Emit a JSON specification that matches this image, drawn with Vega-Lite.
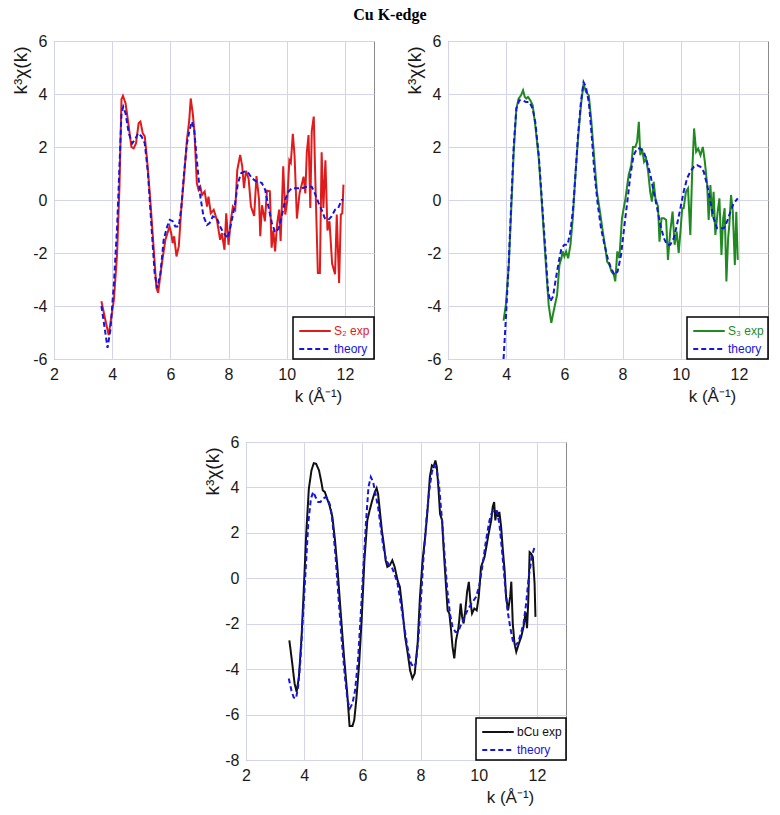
{
  "$schema": "https://vega.github.io/schema/vega-lite/v6.json",
  "background": "white",
  "padding": {"left": 10, "top": 6, "right": 5, "bottom": 5},
  "title": {"text": "Cu K-edge", "font": "Liberation Serif", "fontSize": 16, "fontWeight": "bold", "anchor": "middle", "offset": 10, "color": "#000"},
  "config": {
    "font": "Liberation Sans",
    "view": {"stroke": null},
    "axis": {"grid": true, "gridColor": "#d4d4ea", "gridWidth": 1, "domain": false, "ticks": false, "labelFont": "Liberation Sans", "labelFontSize": 16, "labelColor": "#1a1a1a", "titleFont": "Liberation Sans", "titleFontSize": 17, "titleFontWeight": "normal", "titleColor": "#1a1a1a", "labelFlush": false, "labelOverlap": false, "labelExpr": "'' + datum.value"},
    "axisX": {"labelPadding": 7, "titleX": 264, "titleY": 37, "titleAlign": "center", "titleBaseline": "middle"},
    "axisY": {"labelPadding": 7, "titleX": -34, "titleY": 29, "titleAngle": 270, "titleAlign": "center", "titleBaseline": "middle", "titleFontSize": 19},
    "legend": {"orient": "bottom-right", "offset": 0, "strokeColor": "#000", "strokeWidth": 1.5, "fillColor": "white", "padding": 4, "symbolType": "M-1.75,0H1.75", "symbolSize": 324, "symbolOffset": 8, "symbolStrokeWidth": 2, "labelFontSize": 12, "labelFont": "Liberation Sans", "labelOffset": 9, "rowPadding": 2, "cornerRadius": 0}
  },
  "datasets": {
    "p1": [
      {"k":3.63,"v":-3.82,"s":"S₂ exp"},{"k":3.76,"v":-4.5,"s":"S₂ exp"},{"k":3.88,"v":-5.1,"s":"S₂ exp"},{"k":4.06,"v":-3.76,"s":"S₂ exp"},{"k":4.17,"v":-2.0,"s":"S₂ exp"},{"k":4.25,"v":0.5,"s":"S₂ exp"},{"k":4.32,"v":3.8,"s":"S₂ exp"},{"k":4.37,"v":3.93,"s":"S₂ exp"},{"k":4.46,"v":3.65,"s":"S₂ exp"},{"k":4.57,"v":2.77,"s":"S₂ exp"},{"k":4.66,"v":2.0,"s":"S₂ exp"},{"k":4.74,"v":1.95,"s":"S₂ exp"},{"k":4.82,"v":2.14,"s":"S₂ exp"},{"k":4.91,"v":2.9,"s":"S₂ exp"},{"k":4.97,"v":2.96,"s":"S₂ exp"},{"k":5.05,"v":2.52,"s":"S₂ exp"},{"k":5.12,"v":2.4,"s":"S₂ exp"},{"k":5.2,"v":1.52,"s":"S₂ exp"},{"k":5.31,"v":0,"s":"S₂ exp"},{"k":5.43,"v":-1.88,"s":"S₂ exp"},{"k":5.52,"v":-3.32,"s":"S₂ exp"},{"k":5.58,"v":-3.5,"s":"S₂ exp"},{"k":5.71,"v":-2.38,"s":"S₂ exp"},{"k":5.83,"v":-1.5,"s":"S₂ exp"},{"k":5.97,"v":-1.0,"s":"S₂ exp"},{"k":6.03,"v":-1.25,"s":"S₂ exp"},{"k":6.08,"v":-1.63,"s":"S₂ exp"},{"k":6.13,"v":-1.37,"s":"S₂ exp"},{"k":6.21,"v":-2.13,"s":"S₂ exp"},{"k":6.29,"v":-1.75,"s":"S₂ exp"},{"k":6.38,"v":-0.25,"s":"S₂ exp"},{"k":6.47,"v":0.88,"s":"S₂ exp"},{"k":6.57,"v":2.27,"s":"S₂ exp"},{"k":6.65,"v":3.02,"s":"S₂ exp"},{"k":6.7,"v":3.83,"s":"S₂ exp"},{"k":6.77,"v":3.27,"s":"S₂ exp"},{"k":6.83,"v":2.52,"s":"S₂ exp"},{"k":6.91,"v":0.63,"s":"S₂ exp"},{"k":6.97,"v":0.38,"s":"S₂ exp"},{"k":7.03,"v":0.5,"s":"S₂ exp"},{"k":7.09,"v":0.19,"s":"S₂ exp"},{"k":7.18,"v":0.32,"s":"S₂ exp"},{"k":7.26,"v":-0.25,"s":"S₂ exp"},{"k":7.31,"v":0.13,"s":"S₂ exp"},{"k":7.39,"v":-0.5,"s":"S₂ exp"},{"k":7.49,"v":-0.37,"s":"S₂ exp"},{"k":7.6,"v":-0.75,"s":"S₂ exp"},{"k":7.71,"v":-1.5,"s":"S₂ exp"},{"k":7.77,"v":-1.25,"s":"S₂ exp"},{"k":7.86,"v":-1.88,"s":"S₂ exp"},{"k":7.92,"v":-0.5,"s":"S₂ exp"},{"k":8.0,"v":-1.69,"s":"S₂ exp"},{"k":8.08,"v":-0.75,"s":"S₂ exp"},{"k":8.15,"v":-0.25,"s":"S₂ exp"},{"k":8.23,"v":-0.37,"s":"S₂ exp"},{"k":8.3,"v":1.13,"s":"S₂ exp"},{"k":8.4,"v":1.7,"s":"S₂ exp"},{"k":8.47,"v":1.27,"s":"S₂ exp"},{"k":8.53,"v":0.45,"s":"S₂ exp"},{"k":8.6,"v":1.1,"s":"S₂ exp"},{"k":8.69,"v":0.8,"s":"S₂ exp"},{"k":8.77,"v":-0.24,"s":"S₂ exp"},{"k":8.88,"v":-0.6,"s":"S₂ exp"},{"k":8.96,"v":0.9,"s":"S₂ exp"},{"k":9.05,"v":0.0,"s":"S₂ exp"},{"k":9.09,"v":-1.37,"s":"S₂ exp"},{"k":9.15,"v":-0.2,"s":"S₂ exp"},{"k":9.25,"v":-0.8,"s":"S₂ exp"},{"k":9.32,"v":0.35,"s":"S₂ exp"},{"k":9.42,"v":0.33,"s":"S₂ exp"},{"k":9.48,"v":-1.8,"s":"S₂ exp"},{"k":9.54,"v":-1.15,"s":"S₂ exp"},{"k":9.6,"v":-1.94,"s":"S₂ exp"},{"k":9.67,"v":-0.9,"s":"S₂ exp"},{"k":9.74,"v":-0.36,"s":"S₂ exp"},{"k":9.79,"v":-1.55,"s":"S₂ exp"},{"k":9.88,"v":1.27,"s":"S₂ exp"},{"k":9.95,"v":-0.55,"s":"S₂ exp"},{"k":10.02,"v":0,"s":"S₂ exp"},{"k":10.09,"v":1.5,"s":"S₂ exp"},{"k":10.14,"v":1.4,"s":"S₂ exp"},{"k":10.21,"v":2.5,"s":"S₂ exp"},{"k":10.27,"v":1.65,"s":"S₂ exp"},{"k":10.35,"v":-0.7,"s":"S₂ exp"},{"k":10.44,"v":0.25,"s":"S₂ exp"},{"k":10.52,"v":0.6,"s":"S₂ exp"},{"k":10.58,"v":0.88,"s":"S₂ exp"},{"k":10.64,"v":0.25,"s":"S₂ exp"},{"k":10.69,"v":1.8,"s":"S₂ exp"},{"k":10.75,"v":2.45,"s":"S₂ exp"},{"k":10.81,"v":-0.3,"s":"S₂ exp"},{"k":10.86,"v":2.6,"s":"S₂ exp"},{"k":10.93,"v":3.15,"s":"S₂ exp"},{"k":10.98,"v":0.9,"s":"S₂ exp"},{"k":11.07,"v":-2.75,"s":"S₂ exp"},{"k":11.14,"v":-2.75,"s":"S₂ exp"},{"k":11.2,"v":1.8,"s":"S₂ exp"},{"k":11.26,"v":-0.3,"s":"S₂ exp"},{"k":11.33,"v":1.5,"s":"S₂ exp"},{"k":11.4,"v":-1.15,"s":"S₂ exp"},{"k":11.47,"v":-0.8,"s":"S₂ exp"},{"k":11.56,"v":-2.4,"s":"S₂ exp"},{"k":11.66,"v":-2.8,"s":"S₂ exp"},{"k":11.72,"v":-0.55,"s":"S₂ exp"},{"k":11.8,"v":-3.13,"s":"S₂ exp"},{"k":11.86,"v":-0.55,"s":"S₂ exp"},{"k":11.91,"v":-0.5,"s":"S₂ exp"},{"k":11.95,"v":0.58,"s":"S₂ exp"},
      {"k":3.63,"v":-4.0,"s":"theory"},{"k":3.75,"v":-4.9,"s":"theory"},{"k":3.84,"v":-5.58,"s":"theory"},{"k":3.94,"v":-4.89,"s":"theory"},{"k":4.06,"v":-3.13,"s":"theory"},{"k":4.17,"v":-1.0,"s":"theory"},{"k":4.25,"v":1.26,"s":"theory"},{"k":4.32,"v":3.27,"s":"theory"},{"k":4.38,"v":3.52,"s":"theory"},{"k":4.46,"v":3.27,"s":"theory"},{"k":4.57,"v":2.52,"s":"theory"},{"k":4.69,"v":2.14,"s":"theory"},{"k":4.78,"v":2.27,"s":"theory"},{"k":4.89,"v":2.52,"s":"theory"},{"k":5.01,"v":2.4,"s":"theory"},{"k":5.12,"v":2.14,"s":"theory"},{"k":5.23,"v":1.01,"s":"theory"},{"k":5.35,"v":-1.0,"s":"theory"},{"k":5.46,"v":-2.76,"s":"theory"},{"k":5.55,"v":-3.32,"s":"theory"},{"k":5.66,"v":-2.76,"s":"theory"},{"k":5.77,"v":-1.5,"s":"theory"},{"k":5.89,"v":-1.0,"s":"theory"},{"k":5.98,"v":-0.75,"s":"theory"},{"k":6.08,"v":-0.8,"s":"theory"},{"k":6.17,"v":-1.0,"s":"theory"},{"k":6.29,"v":-1.0,"s":"theory"},{"k":6.38,"v":-0.25,"s":"theory"},{"k":6.46,"v":0.88,"s":"theory"},{"k":6.57,"v":2.14,"s":"theory"},{"k":6.66,"v":2.64,"s":"theory"},{"k":6.74,"v":2.96,"s":"theory"},{"k":6.82,"v":2.64,"s":"theory"},{"k":6.91,"v":1.51,"s":"theory"},{"k":7.03,"v":0.13,"s":"theory"},{"k":7.14,"v":-0.62,"s":"theory"},{"k":7.26,"v":-0.94,"s":"theory"},{"k":7.35,"v":-0.87,"s":"theory"},{"k":7.46,"v":-0.62,"s":"theory"},{"k":7.6,"v":-0.69,"s":"theory"},{"k":7.71,"v":-1.0,"s":"theory"},{"k":7.83,"v":-1.25,"s":"theory"},{"k":7.98,"v":-1.44,"s":"theory"},{"k":8.09,"v":-0.87,"s":"theory"},{"k":8.21,"v":-0.25,"s":"theory"},{"k":8.32,"v":0.63,"s":"theory"},{"k":8.43,"v":1.01,"s":"theory"},{"k":8.55,"v":1.07,"s":"theory"},{"k":8.69,"v":1.01,"s":"theory"},{"k":8.8,"v":0.82,"s":"theory"},{"k":8.97,"v":0.69,"s":"theory"},{"k":9.14,"v":0.65,"s":"theory"},{"k":9.26,"v":0.38,"s":"theory"},{"k":9.37,"v":-0.25,"s":"theory"},{"k":9.49,"v":-0.87,"s":"theory"},{"k":9.6,"v":-1.22,"s":"theory"},{"k":9.71,"v":-1.1,"s":"theory"},{"k":9.83,"v":-0.62,"s":"theory"},{"k":9.94,"v":0,"s":"theory"},{"k":10.06,"v":0.32,"s":"theory"},{"k":10.17,"v":0.44,"s":"theory"},{"k":10.34,"v":0.44,"s":"theory"},{"k":10.51,"v":0.44,"s":"theory"},{"k":10.69,"v":0.5,"s":"theory"},{"k":10.86,"v":0.5,"s":"theory"},{"k":10.97,"v":0.25,"s":"theory"},{"k":11.09,"v":-0.1,"s":"theory"},{"k":11.2,"v":-0.37,"s":"theory"},{"k":11.31,"v":-0.69,"s":"theory"},{"k":11.43,"v":-0.75,"s":"theory"},{"k":11.54,"v":-0.62,"s":"theory"},{"k":11.66,"v":-0.37,"s":"theory"},{"k":11.77,"v":-0.3,"s":"theory"},{"k":11.89,"v":0,"s":"theory"},{"k":11.95,"v":0.02,"s":"theory"}
    ],
    "p2": [
      {"k":3.91,"v":-4.55,"s":"S₃ exp"},{"k":3.99,"v":-3.95,"s":"S₃ exp"},{"k":4.09,"v":-2.45,"s":"S₃ exp"},{"k":4.18,"v":-0.19,"s":"S₃ exp"},{"k":4.26,"v":1.82,"s":"S₃ exp"},{"k":4.35,"v":3.45,"s":"S₃ exp"},{"k":4.43,"v":3.83,"s":"S₃ exp"},{"k":4.51,"v":3.95,"s":"S₃ exp"},{"k":4.58,"v":4.14,"s":"S₃ exp"},{"k":4.64,"v":3.89,"s":"S₃ exp"},{"k":4.69,"v":3.83,"s":"S₃ exp"},{"k":4.75,"v":3.89,"s":"S₃ exp"},{"k":4.83,"v":3.76,"s":"S₃ exp"},{"k":4.91,"v":3.58,"s":"S₃ exp"},{"k":5.0,"v":2.82,"s":"S₃ exp"},{"k":5.12,"v":1.57,"s":"S₃ exp"},{"k":5.23,"v":-0.19,"s":"S₃ exp"},{"k":5.35,"v":-2.2,"s":"S₃ exp"},{"k":5.46,"v":-3.95,"s":"S₃ exp"},{"k":5.55,"v":-4.64,"s":"S₃ exp"},{"k":5.63,"v":-4.2,"s":"S₃ exp"},{"k":5.75,"v":-3.58,"s":"S₃ exp"},{"k":5.83,"v":-2.45,"s":"S₃ exp"},{"k":5.9,"v":-2.2,"s":"S₃ exp"},{"k":5.94,"v":-1.94,"s":"S₃ exp"},{"k":6.0,"v":-2.13,"s":"S₃ exp"},{"k":6.06,"v":-1.94,"s":"S₃ exp"},{"k":6.13,"v":-2.2,"s":"S₃ exp"},{"k":6.21,"v":-1.69,"s":"S₃ exp"},{"k":6.29,"v":-0.69,"s":"S₃ exp"},{"k":6.38,"v":0.94,"s":"S₃ exp"},{"k":6.47,"v":2.32,"s":"S₃ exp"},{"k":6.57,"v":3.58,"s":"S₃ exp"},{"k":6.66,"v":4.39,"s":"S₃ exp"},{"k":6.74,"v":4.08,"s":"S₃ exp"},{"k":6.84,"v":3.95,"s":"S₃ exp"},{"k":6.92,"v":3.07,"s":"S₃ exp"},{"k":7.01,"v":1.82,"s":"S₃ exp"},{"k":7.12,"v":0.31,"s":"S₃ exp"},{"k":7.24,"v":-0.56,"s":"S₃ exp"},{"k":7.32,"v":-1.19,"s":"S₃ exp"},{"k":7.41,"v":-1.82,"s":"S₃ exp"},{"k":7.47,"v":-2.32,"s":"S₃ exp"},{"k":7.55,"v":-2.45,"s":"S₃ exp"},{"k":7.62,"v":-2.7,"s":"S₃ exp"},{"k":7.7,"v":-2.82,"s":"S₃ exp"},{"k":7.75,"v":-3.07,"s":"S₃ exp"},{"k":7.82,"v":-1.94,"s":"S₃ exp"},{"k":7.89,"v":-2.2,"s":"S₃ exp"},{"k":7.98,"v":-0.69,"s":"S₃ exp"},{"k":8.1,"v":0.06,"s":"S₃ exp"},{"k":8.21,"v":0.94,"s":"S₃ exp"},{"k":8.3,"v":1.32,"s":"S₃ exp"},{"k":8.36,"v":2.0,"s":"S₃ exp"},{"k":8.44,"v":2.0,"s":"S₃ exp"},{"k":8.5,"v":2.2,"s":"S₃ exp"},{"k":8.56,"v":2.95,"s":"S₃ exp"},{"k":8.61,"v":1.69,"s":"S₃ exp"},{"k":8.67,"v":1.94,"s":"S₃ exp"},{"k":8.74,"v":1.44,"s":"S₃ exp"},{"k":8.81,"v":1.57,"s":"S₃ exp"},{"k":8.88,"v":1.07,"s":"S₃ exp"},{"k":8.95,"v":0.31,"s":"S₃ exp"},{"k":9.01,"v":-0.06,"s":"S₃ exp"},{"k":9.07,"v":0.69,"s":"S₃ exp"},{"k":9.13,"v":0.06,"s":"S₃ exp"},{"k":9.22,"v":-0.25,"s":"S₃ exp"},{"k":9.27,"v":-1.57,"s":"S₃ exp"},{"k":9.34,"v":-0.69,"s":"S₃ exp"},{"k":9.42,"v":-0.69,"s":"S₃ exp"},{"k":9.5,"v":-0.75,"s":"S₃ exp"},{"k":9.56,"v":-2.26,"s":"S₃ exp"},{"k":9.64,"v":-1.19,"s":"S₃ exp"},{"k":9.72,"v":-0.44,"s":"S₃ exp"},{"k":9.79,"v":-1.69,"s":"S₃ exp"},{"k":9.86,"v":-1.19,"s":"S₃ exp"},{"k":9.93,"v":-2.0,"s":"S₃ exp"},{"k":9.99,"v":-1.19,"s":"S₃ exp"},{"k":10.05,"v":-0.31,"s":"S₃ exp"},{"k":10.1,"v":-0.31,"s":"S₃ exp"},{"k":10.18,"v":0.31,"s":"S₃ exp"},{"k":10.25,"v":0.44,"s":"S₃ exp"},{"k":10.33,"v":-1.32,"s":"S₃ exp"},{"k":10.39,"v":0.94,"s":"S₃ exp"},{"k":10.46,"v":2.7,"s":"S₃ exp"},{"k":10.53,"v":1.82,"s":"S₃ exp"},{"k":10.6,"v":1.94,"s":"S₃ exp"},{"k":10.68,"v":1.69,"s":"S₃ exp"},{"k":10.76,"v":2.0,"s":"S₃ exp"},{"k":10.83,"v":1.44,"s":"S₃ exp"},{"k":10.91,"v":0.56,"s":"S₃ exp"},{"k":10.96,"v":-0.75,"s":"S₃ exp"},{"k":11.02,"v":0.56,"s":"S₃ exp"},{"k":11.08,"v":-0.63,"s":"S₃ exp"},{"k":11.13,"v":0.31,"s":"S₃ exp"},{"k":11.19,"v":-1.32,"s":"S₃ exp"},{"k":11.27,"v":-0.44,"s":"S₃ exp"},{"k":11.33,"v":0.06,"s":"S₃ exp"},{"k":11.4,"v":-2.07,"s":"S₃ exp"},{"k":11.46,"v":-0.69,"s":"S₃ exp"},{"k":11.51,"v":-0.31,"s":"S₃ exp"},{"k":11.57,"v":-3.07,"s":"S₃ exp"},{"k":11.63,"v":-1.44,"s":"S₃ exp"},{"k":11.67,"v":-0.94,"s":"S₃ exp"},{"k":11.73,"v":0.19,"s":"S₃ exp"},{"k":11.79,"v":-0.44,"s":"S₃ exp"},{"k":11.86,"v":-2.45,"s":"S₃ exp"},{"k":11.91,"v":-0.44,"s":"S₃ exp"},{"k":11.96,"v":-2.26,"s":"S₃ exp"},
      {"k":3.91,"v":-6.0,"s":"theory"},{"k":3.99,"v":-4.45,"s":"theory"},{"k":4.09,"v":-2.32,"s":"theory"},{"k":4.18,"v":0.06,"s":"theory"},{"k":4.26,"v":2.07,"s":"theory"},{"k":4.35,"v":3.45,"s":"theory"},{"k":4.45,"v":3.76,"s":"theory"},{"k":4.57,"v":3.76,"s":"theory"},{"k":4.68,"v":3.7,"s":"theory"},{"k":4.8,"v":3.7,"s":"theory"},{"k":4.91,"v":3.45,"s":"theory"},{"k":5.0,"v":2.95,"s":"theory"},{"k":5.12,"v":1.69,"s":"theory"},{"k":5.23,"v":-0.06,"s":"theory"},{"k":5.35,"v":-1.94,"s":"theory"},{"k":5.44,"v":-3.45,"s":"theory"},{"k":5.52,"v":-3.83,"s":"theory"},{"k":5.61,"v":-3.64,"s":"theory"},{"k":5.71,"v":-2.95,"s":"theory"},{"k":5.81,"v":-2.32,"s":"theory"},{"k":5.9,"v":-1.82,"s":"theory"},{"k":6.0,"v":-1.69,"s":"theory"},{"k":6.11,"v":-1.69,"s":"theory"},{"k":6.21,"v":-1.19,"s":"theory"},{"k":6.3,"v":-0.31,"s":"theory"},{"k":6.38,"v":0.94,"s":"theory"},{"k":6.47,"v":2.45,"s":"theory"},{"k":6.57,"v":3.7,"s":"theory"},{"k":6.66,"v":4.45,"s":"theory"},{"k":6.74,"v":4.27,"s":"theory"},{"k":6.84,"v":3.7,"s":"theory"},{"k":6.93,"v":2.57,"s":"theory"},{"k":7.03,"v":1.07,"s":"theory"},{"k":7.15,"v":-0.19,"s":"theory"},{"k":7.26,"v":-1.07,"s":"theory"},{"k":7.38,"v":-1.69,"s":"theory"},{"k":7.49,"v":-2.2,"s":"theory"},{"k":7.6,"v":-2.57,"s":"theory"},{"k":7.72,"v":-2.82,"s":"theory"},{"k":7.83,"v":-2.7,"s":"theory"},{"k":7.95,"v":-2.07,"s":"theory"},{"k":8.04,"v":-1.19,"s":"theory"},{"k":8.15,"v":-0.19,"s":"theory"},{"k":8.27,"v":0.94,"s":"theory"},{"k":8.38,"v":1.69,"s":"theory"},{"k":8.5,"v":1.94,"s":"theory"},{"k":8.61,"v":1.94,"s":"theory"},{"k":8.73,"v":1.82,"s":"theory"},{"k":8.84,"v":1.44,"s":"theory"},{"k":8.96,"v":0.94,"s":"theory"},{"k":9.07,"v":0.31,"s":"theory"},{"k":9.19,"v":-0.31,"s":"theory"},{"k":9.3,"v":-0.94,"s":"theory"},{"k":9.42,"v":-1.44,"s":"theory"},{"k":9.53,"v":-1.69,"s":"theory"},{"k":9.64,"v":-1.69,"s":"theory"},{"k":9.76,"v":-1.44,"s":"theory"},{"k":9.87,"v":-0.94,"s":"theory"},{"k":9.99,"v":-0.31,"s":"theory"},{"k":10.1,"v":0.31,"s":"theory"},{"k":10.22,"v":0.82,"s":"theory"},{"k":10.33,"v":1.07,"s":"theory"},{"k":10.45,"v":1.25,"s":"theory"},{"k":10.56,"v":1.32,"s":"theory"},{"k":10.68,"v":1.25,"s":"theory"},{"k":10.79,"v":1.07,"s":"theory"},{"k":10.91,"v":0.56,"s":"theory"},{"k":11.02,"v":-0.06,"s":"theory"},{"k":11.13,"v":-0.69,"s":"theory"},{"k":11.25,"v":-1.07,"s":"theory"},{"k":11.36,"v":-1.07,"s":"theory"},{"k":11.48,"v":-1.07,"s":"theory"},{"k":11.59,"v":-0.82,"s":"theory"},{"k":11.71,"v":-0.44,"s":"theory"},{"k":11.82,"v":-0.13,"s":"theory"},{"k":11.96,"v":0.06,"s":"theory"}
    ],
    "p3": [
      {"k":3.49,"v":-2.73,"s":"bCu exp"},{"k":3.59,"v":-3.75,"s":"bCu exp"},{"k":3.67,"v":-4.63,"s":"bCu exp"},{"k":3.74,"v":-5.0,"s":"bCu exp"},{"k":3.82,"v":-4.34,"s":"bCu exp"},{"k":3.91,"v":-2.58,"s":"bCu exp"},{"k":3.99,"v":-0.38,"s":"bCu exp"},{"k":4.07,"v":1.96,"s":"bCu exp"},{"k":4.16,"v":3.94,"s":"bCu exp"},{"k":4.25,"v":4.75,"s":"bCu exp"},{"k":4.33,"v":5.07,"s":"bCu exp"},{"k":4.41,"v":5.04,"s":"bCu exp"},{"k":4.51,"v":4.75,"s":"bCu exp"},{"k":4.59,"v":4.24,"s":"bCu exp"},{"k":4.64,"v":3.87,"s":"bCu exp"},{"k":4.71,"v":3.8,"s":"bCu exp"},{"k":4.79,"v":3.5,"s":"bCu exp"},{"k":4.87,"v":3.21,"s":"bCu exp"},{"k":4.97,"v":2.7,"s":"bCu exp"},{"k":5.06,"v":1.67,"s":"bCu exp"},{"k":5.15,"v":0.35,"s":"bCu exp"},{"k":5.25,"v":-1.41,"s":"bCu exp"},{"k":5.37,"v":-3.46,"s":"bCu exp"},{"k":5.48,"v":-5.07,"s":"bCu exp"},{"k":5.56,"v":-6.5,"s":"bCu exp"},{"k":5.66,"v":-6.5,"s":"bCu exp"},{"k":5.72,"v":-6.25,"s":"bCu exp"},{"k":5.79,"v":-5.37,"s":"bCu exp"},{"k":5.89,"v":-3.75,"s":"bCu exp"},{"k":5.98,"v":-1.7,"s":"bCu exp"},{"k":6.07,"v":0.79,"s":"bCu exp"},{"k":6.17,"v":2.55,"s":"bCu exp"},{"k":6.25,"v":2.99,"s":"bCu exp"},{"k":6.34,"v":3.43,"s":"bCu exp"},{"k":6.43,"v":3.8,"s":"bCu exp"},{"k":6.49,"v":3.97,"s":"bCu exp"},{"k":6.54,"v":3.72,"s":"bCu exp"},{"k":6.6,"v":2.99,"s":"bCu exp"},{"k":6.67,"v":2.11,"s":"bCu exp"},{"k":6.75,"v":1.38,"s":"bCu exp"},{"k":6.8,"v":0.79,"s":"bCu exp"},{"k":6.86,"v":0.5,"s":"bCu exp"},{"k":6.94,"v":0.57,"s":"bCu exp"},{"k":7.03,"v":0.79,"s":"bCu exp"},{"k":7.11,"v":0.5,"s":"bCu exp"},{"k":7.21,"v":-0.09,"s":"bCu exp"},{"k":7.29,"v":-0.38,"s":"bCu exp"},{"k":7.38,"v":-1.41,"s":"bCu exp"},{"k":7.47,"v":-2.58,"s":"bCu exp"},{"k":7.56,"v":-3.31,"s":"bCu exp"},{"k":7.64,"v":-4.05,"s":"bCu exp"},{"k":7.72,"v":-4.41,"s":"bCu exp"},{"k":7.8,"v":-4.19,"s":"bCu exp"},{"k":7.9,"v":-2.87,"s":"bCu exp"},{"k":7.98,"v":-0.82,"s":"bCu exp"},{"k":8.07,"v":0.79,"s":"bCu exp"},{"k":8.16,"v":1.82,"s":"bCu exp"},{"k":8.24,"v":2.99,"s":"bCu exp"},{"k":8.32,"v":4.46,"s":"bCu exp"},{"k":8.39,"v":4.97,"s":"bCu exp"},{"k":8.45,"v":4.9,"s":"bCu exp"},{"k":8.51,"v":5.19,"s":"bCu exp"},{"k":8.56,"v":4.9,"s":"bCu exp"},{"k":8.62,"v":3.87,"s":"bCu exp"},{"k":8.67,"v":2.84,"s":"bCu exp"},{"k":8.74,"v":2.55,"s":"bCu exp"},{"k":8.79,"v":1.38,"s":"bCu exp"},{"k":8.87,"v":-0.23,"s":"bCu exp"},{"k":8.93,"v":-1.41,"s":"bCu exp"},{"k":8.99,"v":-1.55,"s":"bCu exp"},{"k":9.05,"v":-2.29,"s":"bCu exp"},{"k":9.1,"v":-3.02,"s":"bCu exp"},{"k":9.16,"v":-3.53,"s":"bCu exp"},{"k":9.22,"v":-2.73,"s":"bCu exp"},{"k":9.29,"v":-2.29,"s":"bCu exp"},{"k":9.33,"v":-1.85,"s":"bCu exp"},{"k":9.38,"v":-1.11,"s":"bCu exp"},{"k":9.43,"v":-1.7,"s":"bCu exp"},{"k":9.48,"v":-1.99,"s":"bCu exp"},{"k":9.54,"v":-1.41,"s":"bCu exp"},{"k":9.6,"v":-0.6,"s":"bCu exp"},{"k":9.66,"v":-0.16,"s":"bCu exp"},{"k":9.71,"v":-0.97,"s":"bCu exp"},{"k":9.77,"v":-1.55,"s":"bCu exp"},{"k":9.85,"v":-1.33,"s":"bCu exp"},{"k":9.93,"v":-1.41,"s":"bCu exp"},{"k":10.0,"v":-0.82,"s":"bCu exp"},{"k":10.08,"v":0.5,"s":"bCu exp"},{"k":10.2,"v":0.94,"s":"bCu exp"},{"k":10.28,"v":1.52,"s":"bCu exp"},{"k":10.34,"v":1.96,"s":"bCu exp"},{"k":10.43,"v":2.55,"s":"bCu exp"},{"k":10.48,"v":3.14,"s":"bCu exp"},{"k":10.53,"v":3.36,"s":"bCu exp"},{"k":10.57,"v":2.55,"s":"bCu exp"},{"k":10.62,"v":2.99,"s":"bCu exp"},{"k":10.67,"v":2.7,"s":"bCu exp"},{"k":10.71,"v":2.92,"s":"bCu exp"},{"k":10.77,"v":2.26,"s":"bCu exp"},{"k":10.83,"v":1.23,"s":"bCu exp"},{"k":10.89,"v":0.35,"s":"bCu exp"},{"k":10.94,"v":-0.82,"s":"bCu exp"},{"k":11.01,"v":-1.41,"s":"bCu exp"},{"k":11.08,"v":-0.82,"s":"bCu exp"},{"k":11.12,"v":-0.15,"s":"bCu exp"},{"k":11.17,"v":-1.99,"s":"bCu exp"},{"k":11.23,"v":-2.87,"s":"bCu exp"},{"k":11.29,"v":-3.24,"s":"bCu exp"},{"k":11.38,"v":-2.87,"s":"bCu exp"},{"k":11.46,"v":-2.58,"s":"bCu exp"},{"k":11.54,"v":-2.14,"s":"bCu exp"},{"k":11.61,"v":-1.5,"s":"bCu exp"},{"k":11.66,"v":-2.2,"s":"bCu exp"},{"k":11.7,"v":-1.11,"s":"bCu exp"},{"k":11.75,"v":1.15,"s":"bCu exp"},{"k":11.8,"v":1.09,"s":"bCu exp"},{"k":11.86,"v":0.94,"s":"bCu exp"},{"k":11.92,"v":-0.23,"s":"bCu exp"},{"k":11.95,"v":-1.7,"s":"bCu exp"},
      {"k":3.47,"v":-4.41,"s":"theory"},{"k":3.56,"v":-4.93,"s":"theory"},{"k":3.64,"v":-5.25,"s":"theory"},{"k":3.72,"v":-5.29,"s":"theory"},{"k":3.79,"v":-4.78,"s":"theory"},{"k":3.87,"v":-3.61,"s":"theory"},{"k":3.95,"v":-1.85,"s":"theory"},{"k":4.05,"v":0.35,"s":"theory"},{"k":4.14,"v":2.4,"s":"theory"},{"k":4.23,"v":3.5,"s":"theory"},{"k":4.31,"v":3.8,"s":"theory"},{"k":4.39,"v":3.58,"s":"theory"},{"k":4.48,"v":3.36,"s":"theory"},{"k":4.56,"v":3.36,"s":"theory"},{"k":4.64,"v":3.5,"s":"theory"},{"k":4.74,"v":3.58,"s":"theory"},{"k":4.83,"v":3.43,"s":"theory"},{"k":4.91,"v":3.14,"s":"theory"},{"k":4.99,"v":2.26,"s":"theory"},{"k":5.08,"v":0.94,"s":"theory"},{"k":5.17,"v":-0.67,"s":"theory"},{"k":5.29,"v":-2.73,"s":"theory"},{"k":5.4,"v":-4.34,"s":"theory"},{"k":5.49,"v":-5.37,"s":"theory"},{"k":5.57,"v":-5.73,"s":"theory"},{"k":5.66,"v":-5.51,"s":"theory"},{"k":5.75,"v":-4.93,"s":"theory"},{"k":5.85,"v":-3.61,"s":"theory"},{"k":5.94,"v":-1.7,"s":"theory"},{"k":6.03,"v":0.35,"s":"theory"},{"k":6.13,"v":2.55,"s":"theory"},{"k":6.21,"v":4.02,"s":"theory"},{"k":6.29,"v":4.46,"s":"theory"},{"k":6.37,"v":4.24,"s":"theory"},{"k":6.45,"v":3.72,"s":"theory"},{"k":6.54,"v":3.14,"s":"theory"},{"k":6.63,"v":2.26,"s":"theory"},{"k":6.72,"v":1.38,"s":"theory"},{"k":6.82,"v":0.79,"s":"theory"},{"k":6.92,"v":0.57,"s":"theory"},{"k":7.01,"v":0.5,"s":"theory"},{"k":7.1,"v":0.21,"s":"theory"},{"k":7.21,"v":-0.23,"s":"theory"},{"k":7.32,"v":-1.11,"s":"theory"},{"k":7.44,"v":-2.14,"s":"theory"},{"k":7.55,"v":-3.02,"s":"theory"},{"k":7.67,"v":-3.75,"s":"theory"},{"k":7.76,"v":-3.9,"s":"theory"},{"k":7.84,"v":-3.75,"s":"theory"},{"k":7.93,"v":-2.58,"s":"theory"},{"k":8.02,"v":-0.82,"s":"theory"},{"k":8.11,"v":1.09,"s":"theory"},{"k":8.21,"v":2.7,"s":"theory"},{"k":8.3,"v":3.87,"s":"theory"},{"k":8.39,"v":4.68,"s":"theory"},{"k":8.47,"v":4.97,"s":"theory"},{"k":8.55,"v":4.82,"s":"theory"},{"k":8.64,"v":4.02,"s":"theory"},{"k":8.74,"v":2.55,"s":"theory"},{"k":8.83,"v":0.94,"s":"theory"},{"k":8.92,"v":-0.53,"s":"theory"},{"k":9.01,"v":-1.55,"s":"theory"},{"k":9.1,"v":-2.14,"s":"theory"},{"k":9.2,"v":-2.36,"s":"theory"},{"k":9.29,"v":-2.36,"s":"theory"},{"k":9.38,"v":-2.07,"s":"theory"},{"k":9.47,"v":-1.85,"s":"theory"},{"k":9.56,"v":-1.55,"s":"theory"},{"k":9.68,"v":-1.26,"s":"theory"},{"k":9.79,"v":-1.04,"s":"theory"},{"k":9.91,"v":-0.82,"s":"theory"},{"k":10.02,"v":-0.31,"s":"theory"},{"k":10.14,"v":0.65,"s":"theory"},{"k":10.25,"v":1.67,"s":"theory"},{"k":10.37,"v":2.55,"s":"theory"},{"k":10.46,"v":2.92,"s":"theory"},{"k":10.54,"v":3.02,"s":"theory"},{"k":10.63,"v":2.92,"s":"theory"},{"k":10.71,"v":2.4,"s":"theory"},{"k":10.8,"v":1.23,"s":"theory"},{"k":10.9,"v":-0.23,"s":"theory"},{"k":10.99,"v":-1.41,"s":"theory"},{"k":11.08,"v":-2.14,"s":"theory"},{"k":11.17,"v":-2.73,"s":"theory"},{"k":11.26,"v":-2.95,"s":"theory"},{"k":11.36,"v":-2.8,"s":"theory"},{"k":11.45,"v":-2.43,"s":"theory"},{"k":11.54,"v":-1.99,"s":"theory"},{"k":11.63,"v":-1.11,"s":"theory"},{"k":11.72,"v":0.06,"s":"theory"},{"k":11.82,"v":0.94,"s":"theory"},{"k":11.92,"v":1.38,"s":"theory"}
    ]
  },
  "vconcat": [
    {
      "hconcat": [
        {
          "width": 320, "height": 318,
          "view": {"stroke": "#8a8a8a", "strokeWidth": 1},
          "data": {"name": "p1"},
          "mark": {"type": "line", "strokeWidth": 2, "clip": true},
          "encoding": {
            "x": {"field": "k", "type": "quantitative", "scale": {"domain": [2, 13], "nice": false, "zero": false}, "axis": {"values": [2,4,6,8,10,12], "title": "k (Å⁻¹)"}},
            "y": {"field": "v", "type": "quantitative", "scale": {"domain": [-6, 6], "nice": false, "zero": false}, "axis": {"values": [-6,-4,-2,0,2,4,6], "title": "k³χ(k)"}},
            "color": {"field": "s", "type": "nominal", "scale": {"domain": ["S₂ exp", "theory"], "range": ["#e01b1b", "#1515e0"]}, "legend": {"title": null, "encode": {"labels": {"update": {"fill": {"signal": "datum.value === 'theory' ? '#1515e0' : '#e01b1b'"}}}}}},
            "strokeDash": {"field": "s", "type": "nominal", "scale": {"domain": ["S₂ exp", "theory"], "range": [[1, 0], [5, 3]]}, "legend": {"title": null, "encode": {"labels": {"update": {"fill": {"signal": "datum.value === 'theory' ? '#1515e0' : '#e01b1b'"}}}}}}
          }
        },
        {
          "width": 320, "height": 318,
          "view": {"stroke": "#8a8a8a", "strokeWidth": 1},
          "data": {"name": "p2"},
          "mark": {"type": "line", "strokeWidth": 2, "clip": true},
          "encoding": {
            "x": {"field": "k", "type": "quantitative", "scale": {"domain": [2, 13], "nice": false, "zero": false}, "axis": {"values": [2,4,6,8,10,12], "title": "k (Å⁻¹)"}},
            "y": {"field": "v", "type": "quantitative", "scale": {"domain": [-6, 6], "nice": false, "zero": false}, "axis": {"values": [-6,-4,-2,0,2,4,6], "title": "k³χ(k)"}},
            "color": {"field": "s", "type": "nominal", "scale": {"domain": ["S₃ exp", "theory"], "range": ["#1f8a1f", "#1515e0"]}, "legend": {"title": null, "encode": {"labels": {"update": {"fill": {"signal": "datum.value === 'theory' ? '#1515e0' : '#1f8a1f'"}}}}}},
            "strokeDash": {"field": "s", "type": "nominal", "scale": {"domain": ["S₃ exp", "theory"], "range": [[1, 0], [5, 3]]}, "legend": {"title": null, "encode": {"labels": {"update": {"fill": {"signal": "datum.value === 'theory' ? '#1515e0' : '#1f8a1f'"}}}}}}
          }
        }
      ],
      "spacing": 28,
      "resolve": {"scale": {"color": "independent", "strokeDash": "independent"}, "legend": {"color": "independent", "strokeDash": "independent"}}
    },
    {
      "hconcat": [
        {
          "width": 117, "height": 10,
          "view": {"stroke": null, "fill": "white"},
          "data": {"values": []},
          "mark": {"type": "point", "opacity": 0},
          "encoding": {}
        },
        {
          "width": 320, "height": 318,
          "view": {"stroke": "#8a8a8a", "strokeWidth": 1},
          "data": {"name": "p3"},
          "mark": {"type": "line", "strokeWidth": 2, "clip": true},
          "encoding": {
            "x": {"field": "k", "type": "quantitative", "scale": {"domain": [2, 13], "nice": false, "zero": false}, "axis": {"values": [2,4,6,8,10,12], "title": "k (Å⁻¹)"}},
            "y": {"field": "v", "type": "quantitative", "scale": {"domain": [-8, 6], "nice": false, "zero": false}, "axis": {"values": [-8,-6,-4,-2,0,2,4,6], "title": "k³χ(k)"}},
            "color": {"field": "s", "type": "nominal", "scale": {"domain": ["bCu exp", "theory"], "range": ["#111111", "#1515e0"]}, "legend": {"title": null, "encode": {"labels": {"update": {"fill": {"signal": "datum.value === 'theory' ? '#1515e0' : '#111111'"}}}}}},
            "strokeDash": {"field": "s", "type": "nominal", "scale": {"domain": ["bCu exp", "theory"], "range": [[1, 0], [5, 3]]}, "legend": {"title": null, "encode": {"labels": {"update": {"fill": {"signal": "datum.value === 'theory' ? '#1515e0' : '#111111'"}}}}}}
          }
        }
      ],
      "spacing": 31,
      "resolve": {"scale": {"color": "independent", "strokeDash": "independent"}, "legend": {"color": "independent", "strokeDash": "independent"}}
    }
  ],
  "spacing": 28,
  "resolve": {"scale": {"color": "independent", "strokeDash": "independent"}, "legend": {"color": "independent", "strokeDash": "independent"}}
}
